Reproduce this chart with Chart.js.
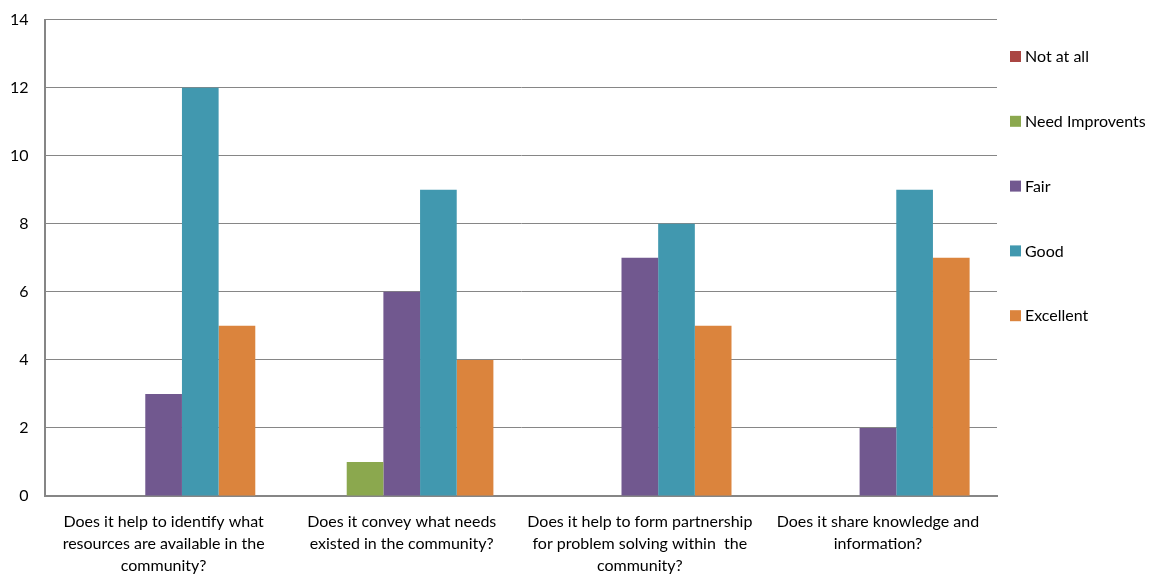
<!DOCTYPE html>
<html>
<head>
<meta charset="utf-8">
<script src="https://cdn.jsdelivr.net/npm/chart.js@4/dist/chart.umd.min.js"></script>
<style>
  html, body { margin: 0; padding: 0; background: #fff; overflow: hidden; }
  #wrap { position: absolute; left: 0; top: -6px; width: 1150px; height: 598px; }
</style>
</head>
<body>
<div id="wrap"><canvas id="c"></canvas></div>
<script>
const categories = [
  ["Does it help to identify what", "resources are available in the", "community?"],
  ["Does it convey what needs", "existed in the community?"],
  ["Does it help to form partnership", "for problem solving within  the", "community?"],
  ["Does it share knowledge and", "information?"]
];
const seriesNames = ["Not at all", "Need Improvents", "Fair", "Good", "Excellent"];
const notAtAll   = [0, 0, 0, 0];
const needImprov = [0, 1, 0, 0];
const fair       = [3, 6, 7, 2];
const good       = [12, 9, 8, 9];
const excellent  = [5, 4, 5, 7];
const yTicks     = [0, 2, 4, 6, 8, 10, 12, 14];

const colors = ["#AA4643", "#8BA84E", "#71588F", "#4198AF", "#DB843D"];
const values = [notAtAll, needImprov, fair, good, excellent];

const FONT = "Lato, 'Open Sans', sans-serif";
const SHIFT = 6;

const legendPlugin = {
  id: 'sideLegend',
  afterDraw(chart) {
    const ctx = chart.ctx;
    ctx.save();
    ctx.font = "16px " + FONT;
    ctx.textBaseline = 'middle';
    ctx.textAlign = 'left';
    chart.data.datasets.forEach((ds, i) => {
      const y = SHIFT + 57 + i * 64.8;
      ctx.fillStyle = ds.backgroundColor;
      ctx.fillRect(1010, y - 6, 11, 11);
      ctx.fillStyle = '#000';
      ctx.fillText(ds.label, 1025, y);
    });
    ctx.restore();
  }
};

new Chart(document.getElementById('c'), {
  type: 'bar',
  data: {
    labels: categories,
    datasets: seriesNames.map((name, i) => ({
      label: name,
      data: values[i],
      backgroundColor: colors[i],
      borderWidth: 0,
      categoryPercentage: 0.77,
      barPercentage: 1.0
    }))
  },
  options: {
    responsive: true,
    maintainAspectRatio: false,
    animation: false,
    layout: { padding: { top: 7, right: 153, left: -6, bottom: 0 } },
    plugins: {
      legend: { display: false },
      tooltip: { enabled: false }
    },
    scales: {
      x: {
        grid: { display: false, drawTicks: false },
        border: { display: true, color: '#868686', width: 2 },
        ticks: {
          autoSkip: false, maxRotation: 0, minRotation: 0,
          color: '#000', padding: 15,
          font: { family: FONT, size: 16, lineHeight: 1.375 }
        }
      },
      y: {
        min: 0, max: 14,
        afterBuildTicks(axis) { axis.ticks = yTicks.map(v => ({ value: v })); },
        grid: { color: '#868686', lineWidth: 1, drawTicks: false },
        border: { display: true, color: '#868686', width: 2 },
        ticks: {
          color: '#000', padding: 16,
          font: { family: FONT, size: 16 }
        }
      }
    }
  },
  plugins: [legendPlugin]
});
</script>
</body>
</html>
